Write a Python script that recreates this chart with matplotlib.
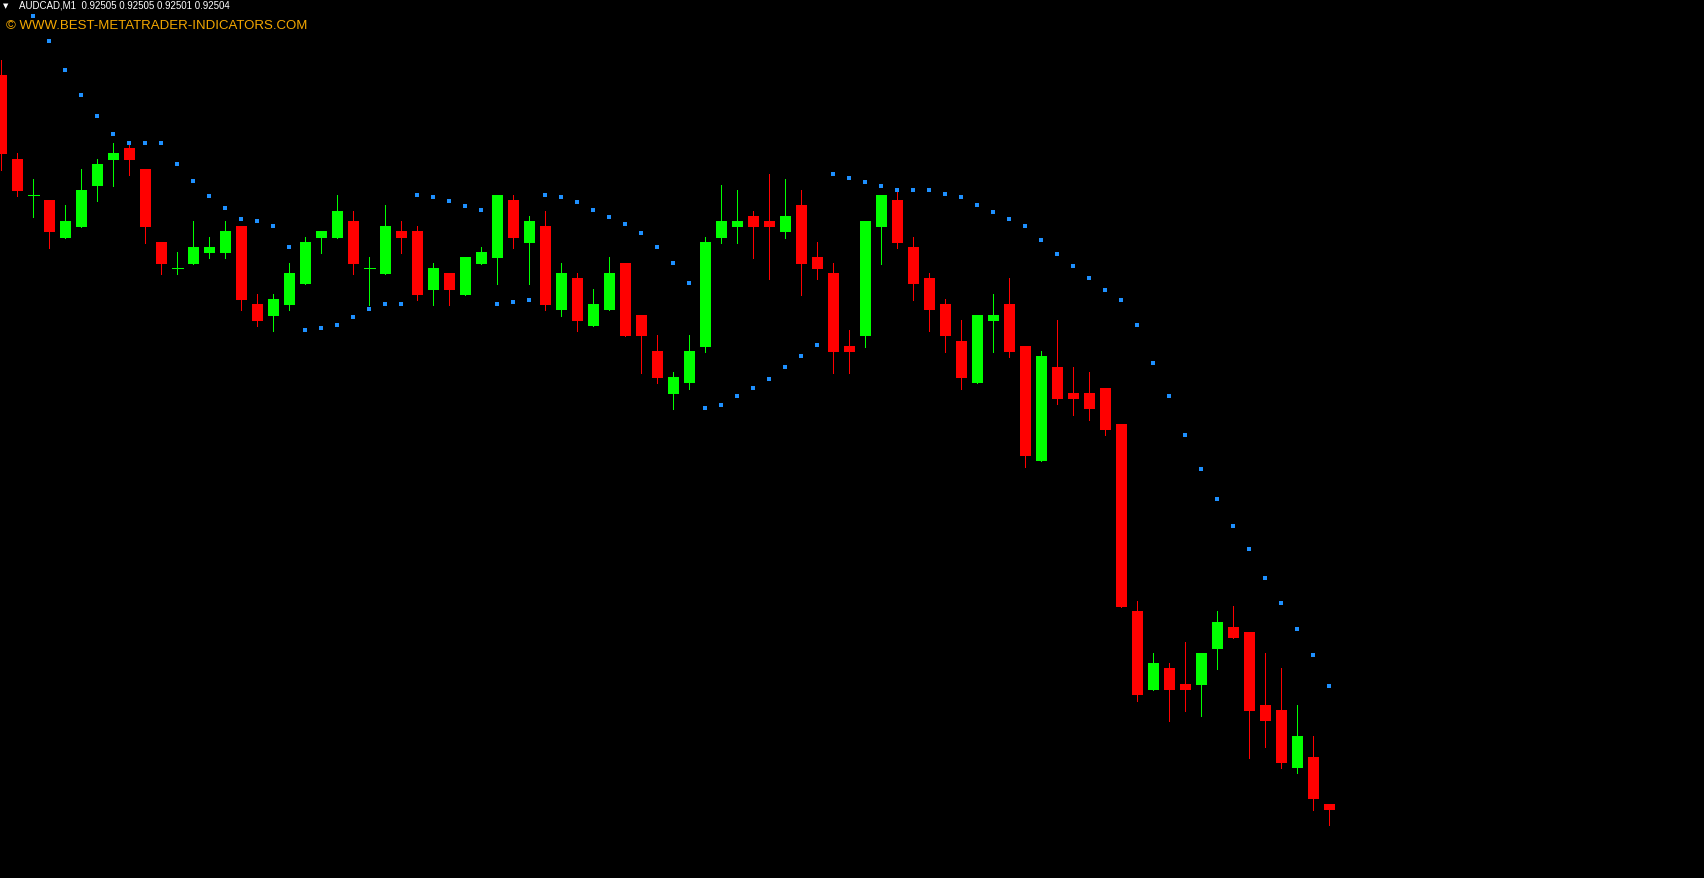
import numpy as np
import matplotlib
matplotlib.use("Agg")
import matplotlib.pyplot as plt

# AUDCAD M1 bars
opens = [0.926508, 0.926340, 0.926268, 0.926258, 0.926182, 0.926204, 0.926286, 0.926338, 0.926362, 0.926320,
         0.926174, 0.926122, 0.926130, 0.926152, 0.926152, 0.926206, 0.926050, 0.926026, 0.926048, 0.926090,
         0.926182, 0.926182, 0.926216, 0.926122, 0.926110, 0.926196, 0.926196, 0.926078, 0.926112, 0.926068,
         0.926130, 0.926142, 0.926258, 0.926172, 0.926206, 0.926038, 0.926102, 0.926006, 0.926038, 0.926132,
         0.926028, 0.925956, 0.925870, 0.925892, 0.925964, 0.926182, 0.926204, 0.926226, 0.926216, 0.926194,
         0.926248, 0.926144, 0.926112, 0.925966, 0.925986, 0.926204, 0.926258, 0.926164, 0.926102, 0.926050,
         0.925976, 0.925892, 0.926016, 0.926050, 0.925966, 0.925736, 0.925924, 0.925872, 0.925872, 0.925882,
         0.925810, 0.925436, 0.925278, 0.925322, 0.925290, 0.925288, 0.925360, 0.925404, 0.925394, 0.925248,
         0.925238, 0.925122, 0.925144, 0.925050]
closes = [0.926350, 0.926276, 0.926268, 0.926194, 0.926216, 0.926278, 0.926330, 0.926352, 0.926338, 0.926204,
          0.926130, 0.926122, 0.926164, 0.926164, 0.926196, 0.926058, 0.926016, 0.926060, 0.926112, 0.926174,
          0.926196, 0.926236, 0.926130, 0.926122, 0.926206, 0.926182, 0.926068, 0.926122, 0.926078, 0.926144,
          0.926154, 0.926268, 0.926182, 0.926216, 0.926048, 0.926112, 0.926016, 0.926050, 0.926112, 0.925986,
          0.925986, 0.925902, 0.925904, 0.925956, 0.926174, 0.926216, 0.926216, 0.926204, 0.926204, 0.926226,
          0.926130, 0.926120, 0.925954, 0.925954, 0.926216, 0.926268, 0.926172, 0.926090, 0.926038, 0.925986,
          0.925902, 0.926028, 0.926028, 0.925954, 0.925746, 0.925946, 0.925860, 0.925860, 0.925840, 0.925798,
          0.925444, 0.925268, 0.925332, 0.925278, 0.925278, 0.925352, 0.925414, 0.925382, 0.925236, 0.925216,
          0.925132, 0.925186, 0.925060, 0.925038]
highs = [0.926538, 0.926352, 0.926300, 0.926258, 0.926248, 0.926320, 0.926340, 0.926372, 0.926372, 0.926320,
         0.926174, 0.926154, 0.926216, 0.926184, 0.926216, 0.926206, 0.926070, 0.926070, 0.926132, 0.926184,
         0.926196, 0.926268, 0.926236, 0.926144, 0.926248, 0.926216, 0.926206, 0.926132, 0.926112, 0.926144,
         0.926164, 0.926268, 0.926268, 0.926226, 0.926236, 0.926132, 0.926112, 0.926080, 0.926144, 0.926132,
         0.926028, 0.925988, 0.925914, 0.925988, 0.926184, 0.926288, 0.926278, 0.926236, 0.926310, 0.926300,
         0.926278, 0.926174, 0.926132, 0.925998, 0.926216, 0.926268, 0.926276, 0.926184, 0.926112, 0.926060,
         0.926018, 0.926028, 0.926070, 0.926102, 0.925966, 0.925956, 0.926018, 0.925924, 0.925914, 0.925882,
         0.925810, 0.925456, 0.925352, 0.925332, 0.925374, 0.925352, 0.925436, 0.925446, 0.925394, 0.925352,
         0.925322, 0.925248, 0.925186, 0.925050]
lows = [0.926318, 0.926266, 0.926224, 0.926162, 0.926182, 0.926204, 0.926256, 0.926286, 0.926308, 0.926172,
        0.926110, 0.926110, 0.926130, 0.926142, 0.926142, 0.926038, 0.926006, 0.925996, 0.926038, 0.926090,
        0.926152, 0.926182, 0.926110, 0.926048, 0.926110, 0.926152, 0.926058, 0.926048, 0.926048, 0.926068,
        0.926130, 0.926090, 0.926162, 0.926090, 0.926038, 0.926026, 0.925996, 0.926006, 0.926038, 0.925986,
        0.925912, 0.925892, 0.925840, 0.925880, 0.925954, 0.926172, 0.926172, 0.926142, 0.926100, 0.926182,
        0.926068, 0.926100, 0.925912, 0.925912, 0.925964, 0.926130, 0.926162, 0.926058, 0.925996, 0.925954,
        0.925880, 0.925892, 0.925954, 0.925944, 0.925724, 0.925736, 0.925850, 0.925828, 0.925818, 0.925788,
        0.925444, 0.925256, 0.925278, 0.925216, 0.925236, 0.925226, 0.925320, 0.925382, 0.925142, 0.925164,
        0.925122, 0.925112, 0.925038, 0.925008]

# Parabolic SAR values (first two are above the visible window)
sar = [np.nan, np.nan, 0.926626, 0.926576, 0.926518, 0.926468, 0.926426, 0.926390, 0.926372, 0.926372,
       0.926372, 0.926330, 0.926296, 0.926266, 0.926242, 0.926220, 0.926216, 0.926206, 0.926164, 0.925998,
       0.926002, 0.926008, 0.926024, 0.926040, 0.926050, 0.926050, 0.926268, 0.926264, 0.926256, 0.926246,
       0.926238, 0.926050, 0.926054, 0.926058, 0.926268, 0.926264, 0.926254, 0.926238, 0.926224, 0.926210,
       0.926192, 0.926164, 0.926132, 0.926092, 0.925842, 0.925848, 0.925866, 0.925882, 0.925900, 0.925924,
       0.925946, 0.925968, 0.926310, 0.926302, 0.926294, 0.926286, 0.926278, 0.926278, 0.926278, 0.926270,
       0.926264, 0.926248, 0.926234, 0.926220, 0.926206, 0.926178, 0.926150, 0.926126, 0.926102, 0.926078,
       0.926058, 0.926008, 0.925932, 0.925865, 0.925788, 0.925720, 0.925660, 0.925605, 0.925560, 0.925502,
       0.925452, 0.925400, 0.925348, 0.925286]

symbol = "AUDCAD,M1"
quote = "0.92505 0.92505 0.92501 0.92504"
watermark = "\u00a9 WWW.BEST-METATRADER-INDICATORS.COM"
price_ticks = [0.92661, 0.924944]

BULL = "#00ff00"
BEAR = "#ff0000"
SAR_COLOR = "#1e90ff"

o = np.array(opens)
c = np.array(closes)
h = np.array(highs)
l = np.array(lows)
x = np.arange(len(o))

W, H, DPI = 1704, 879, 100
fig = plt.figure(figsize=(W / DPI, H / DPI), dpi=DPI, facecolor="black")
ax = fig.add_axes([0, 0, 1703.5 / W, 1])
ax.set_facecolor("black")

up = c >= o
cols = np.where(up, BULL, BEAR)
px = 72 / DPI  # one pixel in points

# wicks
ax.vlines(x, l, h, colors=cols, linewidth=px, antialiased=False, zorder=2)

# bodies
body_w = 11 / 16
doji = np.isclose(o, c)
bottom = np.minimum(o, c)
height = np.abs(c - o)
ax.bar(x[~doji], height[~doji], bottom=bottom[~doji], width=body_w,
       color=cols[~doji], linewidth=0, antialiased=False, zorder=3)
ax.hlines(o[doji], x[doji] - body_w / 2, x[doji] + body_w / 2,
          colors=cols[doji], linewidth=px, antialiased=False, zorder=3)

# parabolic SAR dots
ax.scatter(x, sar, marker="s", s=5, color=SAR_COLOR, linewidths=0, zorder=4)

# scaling: 16 px per bar, 5 px per point
x0 = -1.33 / 16
ax.set_xlim(x0, x0 + 1703.5 / 16)
top = 0.92666
ax.set_ylim(top - H * 0.000002, top)

for s in ["left", "top", "bottom"]:
    ax.spines[s].set_visible(False)
ax.spines["right"].set_color("white")
ax.spines["right"].set_linewidth(px)
ax.set_xticks([])
ax.yaxis.tick_right()
ax.set_yticks(price_ticks)
ax.tick_params(axis="y", colors="white", length=2, width=px, labelright=False)

# header
fig.text(3 / W, 1 - 6 / H, "\u25bc", color="white", fontsize=5, va="center", ha="left",
         family="DejaVu Sans")
fig.text(19 / W, 1 - 6 / H, symbol + "  " + quote, color="white", fontsize=7,
         va="center", ha="left", family="Liberation Sans")
fig.text(6 / W, 1 - 26 / H, watermark, color="#f5a800", fontsize=9.5,
         va="center", ha="left", family="Liberation Sans")

fig.savefig("out.png", dpi=DPI, facecolor="black")
